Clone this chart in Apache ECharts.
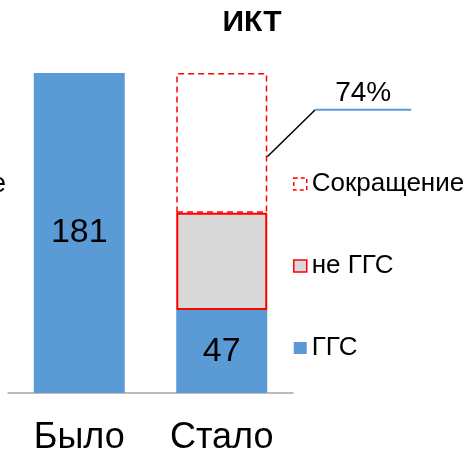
<!DOCTYPE html>
<html><head><meta charset="utf-8">
<script src="https://cdn.jsdelivr.net/npm/echarts@6/dist/echarts.min.js"></script>
<style>html,body{margin:0;padding:0;background:#fff}#c{width:468px;height:456px}</style>
</head><body><div id="c"></div>
<script>
const categories = ['Было', 'Стало'];
const ggs = [181, 47];
const neGgs = ['-', 55];
const reduction = ['-', 79];
const reductionLabel = '74%';
const titleText = 'ИКТ';

const FONT = '"Liberation Sans", Arial, sans-serif';
const chart = echarts.init(document.getElementById('c'));
chart.setOption({
  animation: false,
  title: { text: titleText, left: 247, top: 3, textAlign: 'center',
    textStyle: { fontFamily: FONT, fontSize: 30, fontWeight: 'bold', color: '#000' } },
  grid: { left: 8, right: 175, top: 73, bottom: 60 },
  legend: {
    orient: 'vertical', left: 288, top: 166, itemGap: 56,
    itemWidth: 13, itemHeight: 12, icon: 'rect',
    data: [
      { name: 'Сокращение', itemStyle: { color: '#fff', borderColor: '#ff0000', borderWidth: 1.5, borderType: [4, 3] } },
      { name: 'не ГГС', itemStyle: { color: '#d9d9d9', borderColor: '#ff0000', borderWidth: 1.5 } },
      { name: 'ГГС', itemStyle: { color: '#5b9bd5', borderWidth: 0 } }
    ],
    textStyle: { fontFamily: FONT, fontSize: 26, color: '#000' }
  },
  xAxis: { type: 'category', data: categories,
    axisLine: { lineStyle: { color: '#a6a6a6', width: 1.5 } }, axisTick: { show: false },
    axisLabel: { fontFamily: FONT, fontSize: 36, color: '#000', margin: 27 } },
  yAxis: { type: 'value', min: 0, max: 181, show: false, splitLine: { show: false } },
  series: [
    { name: 'ГГС', type: 'bar', stack: 't', data: ggs, barWidth: 91,
      itemStyle: { color: '#5b9bd5' },
      label: { show: true, position: 'inside', fontFamily: FONT, fontSize: 34, color: '#000' } },
    { name: 'не ГГС', type: 'bar', stack: 't', data: neGgs, barWidth: 91,
      itemStyle: { color: '#d9d9d9', borderColor: '#ff0000', borderWidth: 2 } },
    { name: 'Сокращение', type: 'bar', stack: 't', data: reduction, barWidth: 91,
      itemStyle: { color: 'rgba(255,255,255,0)', borderColor: '#ff0000', borderWidth: 1.5, borderType: [6, 4] } }
  ]
});

// callout for reduction
const anchorVal = ggs[1] + neGgs[1] + reduction[1] * 0.4;
const p = chart.convertToPixel({ xAxisIndex: 0, yAxisIndex: 0 }, [categories[1], anchorVal]);
const x0 = p[0] + 45.5, y0 = p[1];
const x1 = x0 + 48, y1 = y0 - 47;
const x2 = x1 + 96;
chart.setOption({
  graphic: [
    { type: 'polyline', shape: { points: [[x0, y0], [x1, y1]] }, style: { stroke: '#000', lineWidth: 1.5 } },
    { type: 'line', shape: { x1: x1, y1: y1, x2: x2, y2: y1 }, style: { stroke: '#5b9bd5', lineWidth: 2 } },
    { type: 'text', x: (x1 + x2) / 2, y: y1 - 3, style: { text: reductionLabel, textAlign: 'center', textVerticalAlign: 'bottom',
      font: '28px ' + FONT, fill: '#000' } },
    { type: 'text', x: 6, y: 184, style: { text: 'Сокращение', textAlign: 'right', textVerticalAlign: 'middle',
      font: '28px ' + FONT, fill: '#000' } }
  ]
});
</script></body></html>
